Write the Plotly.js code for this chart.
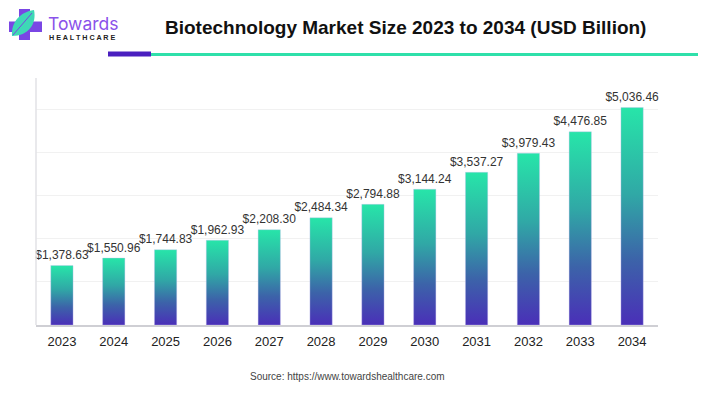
<!DOCTYPE html>
<html>
<head>
<meta charset="utf-8">
<script src="https://cdn.plot.ly/plotly-3.0.1.min.js"></script>
<style>html,body{margin:0;padding:0;background:#fff;}#chart{width:711px;height:397px;}</style>
</head>
<body>
<div id="chart"></div>
<script>
const years = ["2023","2024","2025","2026","2027","2028","2029","2030","2031","2032","2033","2034"];
const marketSize = [1378.63,1550.96,1744.83,1962.93,2208.30,2484.34,2794.88,3144.24,3537.27,3979.43,4476.85,5036.46];
const gridValues = [0,1000,2000,3000,4000,5000,6000];

const halfW = 0.215;
const gradient = {type:'vertical', colorscale:[[0,'#4a2fb8'],[0.3,'#3c63a9'],[0.6,'#30a8a6'],[1,'#27e5a9']]};
const traces = [];
marketSize.forEach((v,i)=>{
  traces.push({
    type:'scatter', mode:'lines', fill:'toself',
    x:[i-halfW,i-halfW,i+halfW,i+halfW,i-halfW],
    y:[0,v,v,0,0],
    line:{width:0.6,color:'rgba(200,190,240,0.6)'},
    fillgradient:gradient,
    hoverinfo:'skip', showlegend:false
  });
});
traces.push({
  type:'scatter', mode:'markers+text',
  x:years.map((_,i)=>i), y:marketSize,
  marker:{size:4,opacity:0},
  text:marketSize.map(v=>'$'+v.toLocaleString('en-US',{minimumFractionDigits:2,maximumFractionDigits:2})),
  textposition:'top center',
  textfont:{family:'Liberation Sans, Arial, sans-serif',size:12,color:'#333'},
  hoverinfo:'skip', showlegend:false, cliponaxis:false
});

const px = x=>(x-36)/622, py = y=>(397-72-y)/259;
const layout = {
  width:711, height:397,
  margin:{l:36,r:53,t:66,b:72},
  paper_bgcolor:'#fff', plot_bgcolor:'#fff',
  showlegend:false,
  xaxis:{
    range:[-0.5,11.5], tickmode:'array',
    tickvals:years.map((_,i)=>i), ticktext:years,
    showgrid:false, zeroline:false, showline:true, linecolor:'#cfcfd4', linewidth:1.5,
    ticks:'', ticklabelstandoff:4,
    tickfont:{family:'Liberation Sans, Arial, sans-serif',size:13,color:'#222'},
    fixedrange:true
  },
  yaxis:{
    range:[0,6000], tickmode:'array', tickvals:gridValues,
    showticklabels:false, showgrid:true, gridcolor:'#f1f1f1', gridwidth:1,
    zeroline:false, showline:false, fixedrange:true
  },
  shapes:[
    {type:'line',xref:'paper',yref:'y',x0:0,x1:0,y0:0,y1:5720,line:{color:'#e2e2e6',width:1.5}},
    {type:'rect',xref:'paper',yref:'paper',x0:px(108),x1:px(151),y0:py(56.5),y1:py(51.5),fillcolor:'#4a1fbf',line:{width:0}},
    {type:'rect',xref:'paper',yref:'paper',x0:px(151),x1:px(698),y0:py(56),y1:py(53),fillcolor:'#2fe0aa',line:{width:0}},
    {type:'rect',xref:'paper',yref:'paper',x0:px(9),x1:px(42),y0:py(32),y1:py(21.5),fillcolor:'#7a46e4',line:{width:0}},
    {type:'rect',xref:'paper',yref:'paper',x0:px(19),x1:px(30),y0:py(40),y1:py(9),fillcolor:'#7a46e4',line:{width:0}},
    {type:'path',xref:'paper',yref:'paper',
     path:'M'+px(12)+','+py(36)+' C'+px(11)+','+py(22)+' '+px(20)+','+py(12)+' '+px(34)+','+py(10)+' C'+px(37)+','+py(24)+' '+px(28)+','+py(36)+' '+px(12)+','+py(36)+' Z',
     fillcolor:'#3ed8b6',line:{width:0}},
    {type:'path',xref:'paper',yref:'paper',
     path:'M'+px(13)+','+py(35)+' C'+px(19)+','+py(28)+' '+px(26)+','+py(20)+' '+px(32)+','+py(13),
     line:{color:'#7a46e4',width:1}}
  ],
  annotations:[
    {xref:'paper',yref:'paper',x:px(405.5),y:py(27.5),xanchor:'center',yanchor:'middle',showarrow:false,
     text:'<b>Biotechnology Market Size 2023 to 2034 (USD Billion)</b>',
     font:{family:'Liberation Sans, Arial, sans-serif',size:19,color:'#111'}},
    {xref:'paper',yref:'paper',x:px(46),y:py(23),xanchor:'left',yanchor:'middle',showarrow:false,
     text:'Towards',font:{family:'Inter, Liberation Sans, sans-serif',size:17.5,color:'#8a52ea'}},
    {xref:'paper',yref:'paper',x:px(47),y:py(37.3),xanchor:'left',yanchor:'middle',showarrow:false,
     text:'<b>H E A L T H C A R E</b>',font:{family:'Liberation Sans, Arial, sans-serif',size:7.2,color:'#222'}},
    {xref:'paper',yref:'paper',x:px(347),y:py(376),xanchor:'center',yanchor:'middle',showarrow:false,
     text:'Source: https://www.towardshealthcare.com',font:{family:'Liberation Sans, Arial, sans-serif',size:10,color:'#444'}}
  ]
};
Plotly.newPlot('chart',traces,layout,{displayModeBar:false,staticPlot:true});
</script>
</body>
</html>
